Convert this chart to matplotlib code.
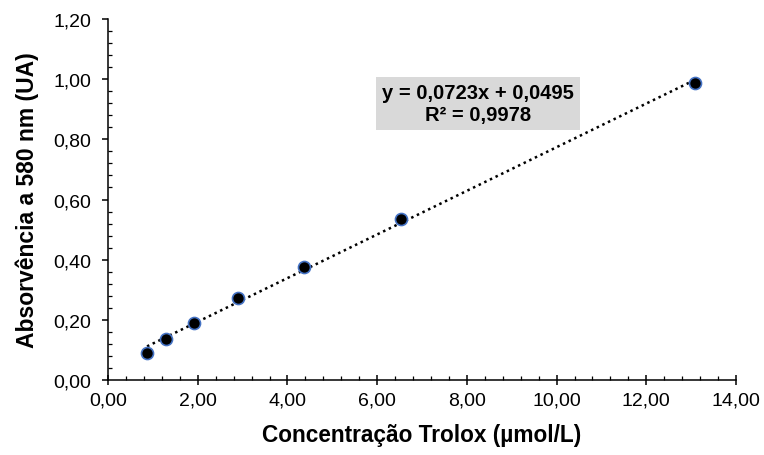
import matplotlib.pyplot as plt
from matplotlib.ticker import MultipleLocator, FuncFormatter
import numpy as np

plt.rcParams['font.family'] = ['Liberation Sans', 'DejaVu Sans']

concentracao = [0.87, 1.29, 1.92, 2.90, 4.37, 6.53, 13.09]
absorvancia = [0.090, 0.135, 0.190, 0.274, 0.376, 0.535, 0.987]

slope, intercept = np.polyfit(concentracao, absorvancia, 1)
eq_text = "y = 0,0723x + 0,0495\nR² = 0,9978"

fig = plt.figure(figsize=(7.64, 4.56), dpi=100)
ax = fig.add_axes([0.1414, 0.1645, 0.822, 0.7915])

xs = np.array([min(concentracao), max(concentracao)])
ax.plot(xs, slope * xs + intercept, color='black', linestyle=(0, (1, 1.5)), linewidth=1.8, zorder=2)
ax.scatter(concentracao, absorvancia, s=75, color='black', edgecolors='#4472c4', linewidths=1.2, zorder=3)

ax.set_xlim(0, 14)
ax.set_ylim(0, 1.2)
ax.xaxis.set_major_locator(MultipleLocator(2))
ax.xaxis.set_minor_locator(MultipleLocator(0.4))
ax.yaxis.set_major_locator(MultipleLocator(0.2))
ax.yaxis.set_minor_locator(MultipleLocator(0.04))
fmt = FuncFormatter(lambda v, p: f"{v:.2f}".replace('.', ','))
ax.xaxis.set_major_formatter(fmt)
ax.yaxis.set_major_formatter(fmt)

ax.spines['top'].set_visible(False)
ax.spines['right'].set_visible(False)
for s in ['left', 'bottom']:
    ax.spines[s].set_linewidth(1.1)

ax.tick_params(axis='x', which='major', direction='inout', length=7.2, width=1.1, labelsize=14, pad=5)
ax.tick_params(axis='x', which='minor', direction='in', length=3, width=0.9)
ax.tick_params(axis='y', which='major', direction='out', length=4.3, width=1.1, labelsize=14, pad=8)
ax.tick_params(axis='y', which='minor', direction='in', length=3, width=0.9)

ax.set_xlabel("Concentração Trolox (µmol/L)", fontsize=16.3, fontweight='bold', labelpad=10)
ax.set_ylabel("Absorvência a 580 nm (UA)", fontsize=16.5, fontweight='bold', labelpad=10)

ax.text(8.24, 0.919, eq_text, ha='center', va='center', fontsize=14.5, fontweight='bold',
        linespacing=1.15,
        bbox=dict(boxstyle='square,pad=0.3', facecolor='#d9d9d9', edgecolor='none'))

fig.savefig('out.png', dpi=100)
